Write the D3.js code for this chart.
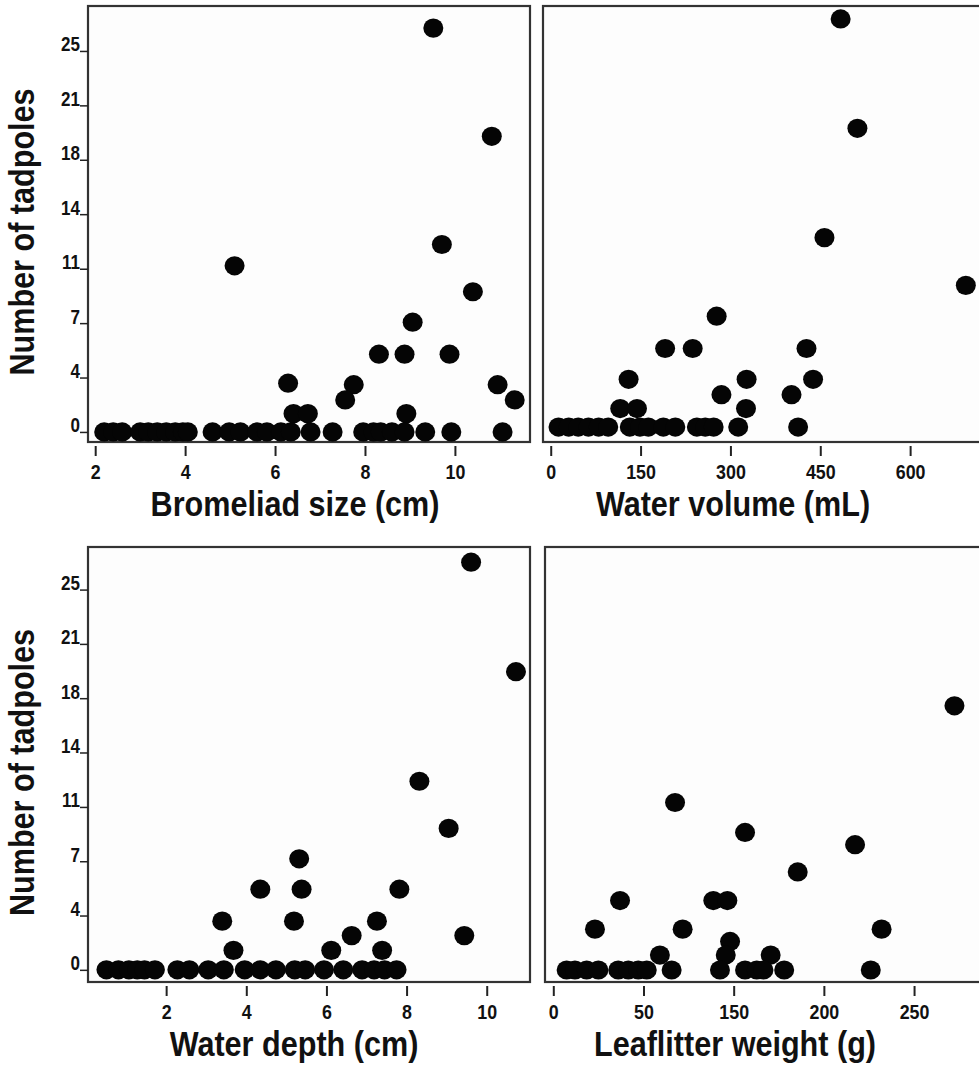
<!DOCTYPE html>
<html>
<head>
<meta charset="utf-8">
<script src="https://cdn.jsdelivr.net/npm/d3@7"></script>
<style>
  body { margin: 0; background: #fff; }
  svg { display: block; }
  text { font-family: 'Liberation Sans', Arial, sans-serif; font-weight: bold; fill: #111; }
</style>
</head>
<body>
<svg width="979" height="1074"></svg>
<script>
// y axis ticks shared by the left panels (7 equal steps up to 25)
const yTickValues = [0, 3.57, 7.14, 10.71, 14.29, 17.86, 21.43, 25];
const yTickLabels = ['0', '4', '7', '11', '14', '18', '21', '25'];

// Bromeliad size (cm)
const bromeliadSize = [9.52, 10.82, 9.71, 5.10, 10.40, 9.06, 8.31, 8.88, 9.88, 6.29, 7.75, 10.95, 7.56, 11.33, 6.41, 6.73, 8.92,
  2.2, 2.4, 2.6, 3.0, 3.18, 3.38, 3.58, 3.78, 3.95, 4.06, 4.61, 4.98, 5.23, 5.6, 5.82, 6.13, 6.35, 6.79, 7.28, 7.96, 8.19, 8.35, 8.6, 8.88, 9.34, 9.92, 11.06];
const tadpolesBySize = [26.5, 19.4, 12.3, 10.9, 9.2, 7.2, 5.1, 5.1, 5.1, 3.2, 3.1, 3.1, 2.1, 2.1, 1.2, 1.2, 1.2,
  0, 0, 0, 0, 0, 0, 0, 0, 0, 0, 0, 0, 0, 0, 0, 0, 0, 0, 0, 0, 0, 0, 0, 0, 0, 0, 0];
const sizeTicks = [2, 4, 6, 8, 10];
const sizeTickLabels = ['2', '4', '6', '8', '10'];

// Water volume (mL)
const waterVolume = [484, 512, 457, 693, 277, 191, 237, 427, 130, 327, 438, 285, 402, 326, 116, 144,
  13, 30, 46, 63, 80, 96, 132, 149, 163, 188, 208, 244, 258, 272, 313, 413];
const tadpolesByVolume = [26.5, 19.4, 12.3, 9.2, 7.2, 5.1, 5.1, 5.1, 3.1, 3.1, 3.1, 2.1, 2.1, 1.2, 1.2, 1.2,
  0, 0, 0, 0, 0, 0, 0, 0, 0, 0, 0, 0, 0, 0, 0, 0];
const volumeTicks = [0, 150, 300, 450, 600];
const volumeTickLabels = ['0', '150', '300', '450', '600'];

// Water depth (cm)
const waterDepth = [9.61, 10.73, 8.32, 9.05, 5.32, 4.35, 5.38, 7.82, 3.40, 5.19, 7.26, 9.44, 6.63, 3.68, 6.12, 7.39,
  0.51, 0.81, 1.07, 1.28, 1.46, 1.72, 2.28, 2.58, 3.05, 3.44, 3.96, 4.35, 4.74, 5.21, 5.47, 5.94, 6.42, 6.89, 7.19, 7.45, 7.75];
const tadpolesByDepth = [26.8, 19.6, 12.4, 9.3, 7.3, 5.3, 5.3, 5.3, 3.2, 3.2, 3.2, 2.25, 2.25, 1.28, 1.28, 1.28,
  0, 0, 0, 0, 0, 0, 0, 0, 0, 0, 0, 0, 0, 0, 0, 0, 0, 0, 0, 0, 0];
const depthTicks = [2, 4, 6, 8, 10];
const depthTickLabels = ['2', '4', '6', '8', '10'];

// Leaflitter weight (g) - axis as printed in the figure (labels 0, 50, 150, 200, 250 evenly spaced)
const leaflitterWeight = [222.4, 67.5, 106.3, 167.3, 135.5, 37, 88.7, 96.5, 23.1, 71.7, 182, 98, 95.6, 59.1, 120.5,
  7.4, 12, 18.5, 25, 36, 41.6, 47.1, 51.8, 65.6, 92.4, 106.3, 112.8, 116.5, 128, 176];
const tadpolesByLeaflitter = [19.4, 12.3, 10.1, 9.2, 7.2, 5.1, 5.1, 5.1, 3.0, 3.0, 3.0, 2.1, 1.1, 1.1, 1.1,
  0, 0, 0, 0, 0, 0, 0, 0, 0, 0, 0, 0, 0, 0, 0];
const leaflitterTicks = [0, 50, 100, 150, 200];
const leaflitterTickLabels = ['0', '50', '150', '200', '250'];

const svg = d3.select('svg');
const narrow = 'scale(0.85,1)'; // no narrow font installed, squeeze the bold sans instead

const panels = [
  { xs: bromeliadSize, ys: tadpolesBySize, xTicks: sizeTicks, xLabels: sizeTickLabels,
    xDomain: [1.84, 11.67], yDomain: [-0.66, 27.95], left: 88, right: 530, xEnd: 530, top: 6, bottom: 442,
    title: 'Bromeliad size (cm)', titleX: 295, yAxis: true },
  { xs: waterVolume, ys: tadpolesByVolume, xTicks: volumeTicks, xLabels: volumeTickLabels,
    xDomain: [-12.9, 715], yDomain: [-0.97, 27.34], left: 543, right: 1000, xEnd: 979, top: 6, bottom: 442,
    title: 'Water volume (mL)', titleX: 733, yAxis: false },
  { xs: waterDepth, ys: tadpolesByDepth, xTicks: depthTicks, xLabels: depthTickLabels,
    xDomain: [0.05, 11.08], yDomain: [-0.8, 27.8], left: 88, right: 530, xEnd: 530, top: 547, bottom: 982,
    title: 'Water depth (cm)', titleX: 294, yAxis: true },
  { xs: leaflitterWeight, ys: tadpolesByLeaflitter, xTicks: leaflitterTicks, xLabels: leaflitterTickLabels,
    xDomain: [-4.6, 236], yDomain: [-0.88, 31.06], left: 545, right: 1000, xEnd: 979, top: 547, bottom: 982,
    title: 'Leaflitter weight (g)', titleX: 735, yAxis: false }
];

panels.forEach(p => {
  const g = svg.append('g');
  const x = d3.scaleLinear().domain(p.xDomain).range([p.left, p.xEnd]);
  const y = d3.scaleLinear().domain(p.yDomain).range([p.bottom, p.top]);

  g.append('rect')
    .attr('x', p.left)
    .attr('y', p.top)
    .attr('width', p.right - p.left)
    .attr('height', p.bottom - p.top)
    .attr('fill', '#fdfdfd')
    .attr('stroke', '#333')
    .attr('stroke-width', 2.2);

  g.append('g')
    .selectAll('ellipse')
    .data(p.xs.map((v, i) => [v, p.ys[i]]))
    .join('ellipse')
    .attr('cx', d => x(d[0]))
    .attr('cy', d => y(d[1]))
    .attr('rx', 10)
    .attr('ry', 9.6)
    .attr('fill', '#050505');

  // x axis, offset slightly below the frame
  const gx = g.append('g')
    .attr('transform', `translate(0,${p.bottom + 4})`)
    .call(d3.axisBottom(x).tickValues(p.xTicks).tickSize(10).tickFormat((d, i) => p.xLabels[i]));
  gx.select('.domain').remove();
  gx.selectAll('.tick line').attr('stroke', '#222').attr('stroke-width', 2);
  gx.selectAll('.tick text')
    .attr('y', 33)
    .attr('dy', 0)
    .attr('font-size', 21)
    .attr('transform', narrow)
    .attr('fill', '#111');

  if (p.yAxis) {
    const gy = g.append('g')
      .attr('transform', `translate(${p.left},0)`)
      .call(d3.axisLeft(y).tickValues(yTickValues).tickSize(8).tickFormat((d, i) => yTickLabels[i]));
    gy.select('.domain').remove();
    gy.selectAll('.tick line').attr('stroke', '#222').attr('stroke-width', 1.5);
    gy.selectAll('.tick text')
      .attr('x', -9.4)
      .attr('dy', 0)
      .attr('font-size', 20)
      .attr('transform', narrow)
      .attr('fill', '#111');

    svg.append('text')
      .attr('transform', `translate(34,${(p.top + p.bottom) / 2 + 8}) rotate(-90) ${narrow}`)
      .attr('text-anchor', 'middle')
      .attr('font-size', 36)
      .text('Number of tadpoles');
  }

  svg.append('text')
    .attr('transform', `translate(${p.titleX},${p.bottom + 74}) ${narrow}`)
    .attr('text-anchor', 'middle')
    .attr('font-size', 36)
    .text(p.title);
});
</script>
</body>
</html>
